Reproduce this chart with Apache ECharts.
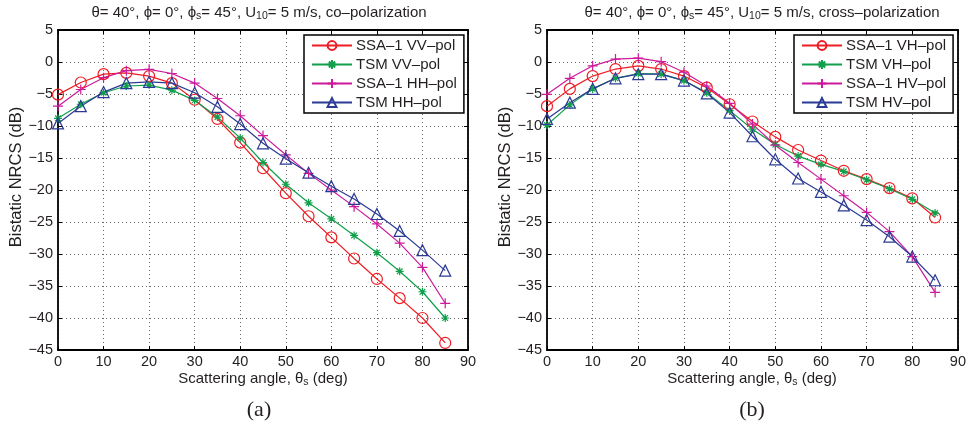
<!DOCTYPE html>
<html><head><meta charset="utf-8">
<script src="https://cdn.jsdelivr.net/npm/echarts@6/dist/echarts.min.js"></script>
<style>html,body{margin:0;padding:0;background:#fff}#c{width:969px;height:426px}</style>
</head><body><div id="c"></div>
<script>
// ---------- data ----------
const angles = [0,5,10,15,20,25,30,35,40,45,50,55,60,65,70,75,80,85];
const xTicks = [0,10,20,30,40,50,60,70,80,90];
const yTicks = [5,0,-5,-10,-15,-20,-25,-30,-35,-40,-45];

// (a) co-polarization
const ssaVV = [-5.1,-3.2,-1.9,-1.7,-2.2,-3.3,-5.9,-8.9,-12.6,-16.6,-20.5,-24.1,-27.4,-30.7,-33.9,-36.9,-40.0,-43.9];
const tsmVV = [-8.8,-6.6,-4.8,-3.75,-3.6,-4.4,-6.0,-8.6,-11.9,-15.7,-19.1,-22.0,-24.5,-27.1,-29.8,-32.7,-35.9,-40.0];
const ssaHH = [-6.9,-4.3,-2.45,-1.35,-1.15,-1.8,-3.3,-5.7,-8.4,-11.5,-14.5,-17.4,-20.0,-22.6,-25.3,-28.3,-32.1,-37.7];
const tsmHH = [-9.6,-6.9,-4.7,-3.3,-3.1,-3.3,-4.8,-7.0,-9.7,-12.7,-15.1,-17.3,-19.4,-21.4,-23.75,-26.4,-29.4,-32.6];

// (b) cross-polarization
const ssaVH = [-6.9,-4.2,-2.2,-1.1,-0.6,-1.1,-2.2,-4.0,-6.6,-9.3,-11.7,-13.75,-15.4,-17.0,-18.3,-19.7,-21.3,-24.3];
const tsmVH = [-9.85,-6.7,-4.2,-2.55,-1.8,-1.9,-2.9,-4.8,-7.6,-10.5,-12.9,-14.7,-16.0,-17.1,-18.4,-19.8,-21.45,-23.6];
const ssaHV = [-5.05,-2.55,-0.6,0.45,0.6,0.05,-1.6,-3.75,-6.45,-9.7,-13.0,-15.7,-18.3,-20.9,-23.5,-26.5,-30.4,-36.0];
const tsmHV = [-8.9,-6.35,-4.2,-2.55,-1.9,-1.9,-2.9,-4.9,-7.9,-11.6,-15.2,-18.2,-20.3,-22.4,-24.7,-27.3,-30.4,-34.1];

const namesA = ['SSA–1 VV–pol','TSM VV–pol','SSA–1 HH–pol','TSM HH–pol'];
const namesB = ['SSA–1 VH–pol','TSM VH–pol','SSA–1 HV–pol','TSM HV–pol'];

// ---------- styles ----------
const FONT = 'Liberation Sans, Arial, Helvetica, sans-serif';
const TXT = '#231f20';
const RED = '#ee1d24', GREEN = '#10a04c', MAG = '#cc1a9b', BLUE = '#2b3a94';
const STAR = 'path://M5,0L5,10M0,5L10,5M1.5,1.5L8.5,8.5M1.5,8.5L8.5,1.5';
const PLUS = 'path://M5,0L5,10M0,5L10,5';
const styles = [
  {color: RED, symbol: 'circle', size: 11},
  {color: GREEN, symbol: STAR, size: 8},
  {color: MAG, symbol: PLUS, size: 10},
  {color: BLUE, symbol: 'triangle', size: 11}
];

const fmtY = v => v < 0 ? '−' + Math.abs(v) : String(v);

function mkSeries(name, vals, st, gi) {
  return {
    type: 'line', name: name,
    xAxisIndex: gi * 2, yAxisIndex: gi * 2,
    data: angles.map((a, i) => [a, vals[i]]),
    symbol: st.symbol, symbolSize: st.size,
    showAllSymbol: true,
    lineStyle: {color: st.color, width: 1.2},
    itemStyle: {color: 'rgba(255,255,255,0)', borderColor: st.color, borderWidth: 1.2},
    emphasis: {disabled: true},
    animation: false, z: 3
  };
}

function mkAxesX(gi) {
  return [
    {type: 'value', gridIndex: gi, min: 0, max: 90, interval: 10, position: 'bottom',
     axisLine: {onZero: false, lineStyle: {color: '#000', width: 1.8}},
     axisTick: {inside: true, length: 4, lineStyle: {color: '#000'}},
     axisLabel: {color: TXT, fontFamily: FONT, fontSize: 14.5, margin: 4},
     splitLine: {show: true, lineStyle: {color: '#666', type: [1, 3], width: 1}}},
    {type: 'value', gridIndex: gi, min: 0, max: 90, interval: 10, position: 'top',
     axisLine: {onZero: false, lineStyle: {color: '#000', width: 1.8}},
     axisTick: {inside: true, length: 4, lineStyle: {color: '#000'}},
     axisLabel: {show: false}, splitLine: {show: false}}
  ];
}
function mkAxesY(gi) {
  return [
    {type: 'value', gridIndex: gi, min: -45, max: 5, interval: 5, position: 'left',
     axisLine: {onZero: false, lineStyle: {color: '#000', width: 1.8}},
     axisTick: {inside: true, length: 4, lineStyle: {color: '#000'}},
     axisLabel: {color: TXT, fontFamily: FONT, fontSize: 14.5, margin: 5, formatter: fmtY},
     splitLine: {show: true, lineStyle: {color: '#666', type: [1, 3], width: 1}}},
    {type: 'value', gridIndex: gi, min: -45, max: 5, interval: 5, position: 'right',
     axisLine: {onZero: false, lineStyle: {color: '#000', width: 1.8}},
     axisTick: {inside: true, length: 4, lineStyle: {color: '#000'}},
     axisLabel: {show: false}, splitLine: {show: false}}
  ];
}

function mkLegend(names, left) {
  return {
    data: names, orient: 'vertical', left: left, top: 35,
    backgroundColor: '#fff', borderColor: '#000', borderWidth: 1.5,
    padding: [3, 7, 3, 7], itemWidth: 40, itemHeight: 11, itemGap: 4,
    textStyle: {color: TXT, fontFamily: FONT, fontSize: 15, padding: [0, 0, 0, -1]},
    selectedMode: false, z: 10
  };
}

const rich = {
  a: {fontFamily: FONT, fontSize: 15, color: TXT, lineHeight: 18, verticalAlign: 'middle'},
  s: {fontFamily: FONT, fontSize: 10.5, color: TXT, lineHeight: 18, verticalAlign: 'bottom'},
  x: {fontFamily: FONT, fontSize: 15, color: TXT, lineHeight: 18, verticalAlign: 'middle'},
  xs: {fontFamily: FONT, fontSize: 10.5, color: TXT, lineHeight: 18, verticalAlign: 'bottom'},
  y: {fontFamily: FONT, fontSize: 16.5, color: TXT, lineHeight: 18, verticalAlign: 'middle'}
};
function rtext(x, y, text, extra) {
  return Object.assign({type: 'text', x: x, y: y, silent: true,
    style: {text: text, rich: rich, align: 'center', verticalAlign: 'middle', fill: TXT}}, extra || {});
}

const option = {
  backgroundColor: '#fff',
  animation: false,
  grid: [
    {left: 58, top: 30, width: 410, height: 320},
    {left: 547, top: 30, width: 411, height: 320}
  ],
  xAxis: [...mkAxesX(0), ...mkAxesX(1)],
  yAxis: [...mkAxesY(0), ...mkAxesY(1)],
  legend: [mkLegend(namesA, 304), mkLegend(namesB, 794)],
  series: [
    mkSeries(namesA[0], ssaVV, styles[0], 0),
    mkSeries(namesA[1], tsmVV, styles[1], 0),
    mkSeries(namesA[2], ssaHH, styles[2], 0),
    mkSeries(namesA[3], tsmHH, styles[3], 0),
    mkSeries(namesB[0], ssaVH, styles[0], 1),
    mkSeries(namesB[1], tsmVH, styles[1], 1),
    mkSeries(namesB[2], ssaHV, styles[2], 1),
    mkSeries(namesB[3], tsmHV, styles[3], 1)
  ],
  graphic: [
    rtext(259, 13, '{a|θ= 40°, ϕ= 0°, ϕ}{s|s}{a|= 45°, U}{s|10}{a|= 5 m/s, co–polarization}'),
    rtext(762, 13, '{a|θ= 40°, ϕ= 0°, ϕ}{s|s}{a|= 45°, U}{s|10}{a|= 5 m/s, cross–polarization}'),
    rtext(263, 379, '{x|Scattering angle, θ}{xs|s}{x| (deg)}'),
    rtext(752, 379, '{x|Scattering angle, θ}{xs|s}{x| (deg)}'),
    rtext(16, 177, '{y|Bistatic NRCS (dB)}', {rotation: Math.PI / 2}),
    rtext(505, 177, '{y|Bistatic NRCS (dB)}', {rotation: Math.PI / 2}),
    {type: 'text', x: 259, y: 410, silent: true,
     style: {text: '(a)', font: '22px "Liberation Serif", "DejaVu Serif", serif', fill: TXT, align: 'center', verticalAlign: 'middle'}},
    {type: 'text', x: 752, y: 410, silent: true,
     style: {text: '(b)', font: '22px "Liberation Serif", "DejaVu Serif", serif', fill: TXT, align: 'center', verticalAlign: 'middle'}}
  ]
};

const chart = echarts.init(document.getElementById('c'), null, {renderer: 'canvas'});
chart.setOption(option);
</script>
</body></html>
